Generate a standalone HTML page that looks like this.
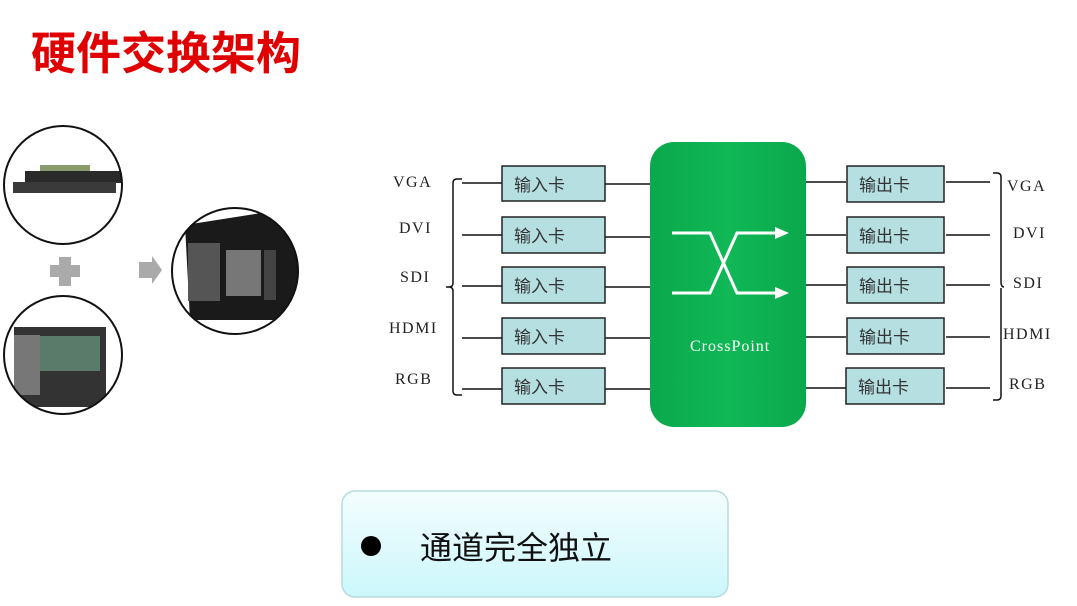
<!DOCTYPE html>
<html><head><meta charset="utf-8"><style>
html,body{margin:0;padding:0;background:#fff;}
body{width:1077px;height:606px;position:relative;overflow:hidden;font-family:"Liberation Sans","Noto Sans CJK SC",sans-serif;}
</style></head><body>
<svg width="1077" height="606" viewBox="0 0 1077 606" xmlns="http://www.w3.org/2000/svg" style="position:absolute;left:0;top:0">
<defs>
<linearGradient id="g" x1="0" y1="0" x2="0" y2="1"><stop offset="0" stop-color="#f4fdfe"/><stop offset="1" stop-color="#cbf7fb"/></linearGradient>
<linearGradient id="gr" x1="0" y1="0" x2="1" y2="0"><stop offset="0" stop-color="#0aa84c"/><stop offset="0.5" stop-color="#10b856"/><stop offset="1" stop-color="#0aa84c"/></linearGradient>
<clipPath id="c1"><circle cx="63" cy="185" r="59"/></clipPath>
<clipPath id="c2"><circle cx="63" cy="355" r="59"/></clipPath>
<clipPath id="c3"><circle cx="235" cy="271" r="63"/></clipPath>
</defs>
<text x="31" y="69" font-size="45" font-weight="bold" fill="#e00000" font-family="'Noto Sans CJK SC',sans-serif">硬件交换架构</text>

<circle cx="63" cy="185" r="59" fill="#fff"/>
<g clip-path="url(#c1)">
<rect x="40" y="165" width="50" height="8" fill="#8a9a6a"/>
<rect x="25" y="171" width="100" height="12" fill="#2a2a2a"/>
<rect x="13" y="182" width="103" height="11" fill="#3a3a3a"/>
</g>
<circle cx="63" cy="185" r="59" fill="none" stroke="#111" stroke-width="2"/>
<circle cx="63" cy="355" r="59" fill="#fff"/>
<g clip-path="url(#c2)">
<rect x="14" y="327" width="92" height="80" fill="#333"/>
<rect x="40" y="336" width="60" height="35" fill="#5a7a6a"/>
<rect x="14" y="335" width="26" height="60" fill="#777"/>
</g>
<circle cx="63" cy="355" r="59" fill="none" stroke="#111" stroke-width="2"/>
<rect x="50" y="265" width="30" height="12" fill="#aaa"/>
<rect x="59" y="257" width="12" height="29" fill="#aaa"/>
<polygon points="139,262 152,262 152,256 162,270 152,284 152,278 139,278" fill="#aaa"/>
<circle cx="235" cy="271" r="63" fill="#fff"/>
<g clip-path="url(#c3)">
<polygon points="185,225 280,210 300,220 300,305 278,320 190,320" fill="#1a1a1a"/>
<rect x="188" y="243" width="32" height="58" fill="#555"/>
<rect x="226" y="250" width="35" height="46" fill="#777"/>
<rect x="264" y="250" width="12" height="50" fill="#444"/>
</g>
<circle cx="235" cy="271" r="63" fill="none" stroke="#111" stroke-width="2"/>

<g font-family="'Liberation Serif',serif" font-size="16" fill="#222" letter-spacing="1.5">
<text x="393" y="187">VGA</text><text x="399" y="233">DVI</text><text x="400" y="282">SDI</text><text x="389" y="333">HDMI</text><text x="395" y="384">RGB</text>
<text x="1007" y="191">VGA</text><text x="1013" y="238">DVI</text><text x="1013" y="288">SDI</text><text x="1003" y="339">HDMI</text><text x="1009" y="389">RGB</text>
</g>
<g stroke="#111" stroke-width="1.5" fill="none">
<path d="M462,179 h-5 q-4,0 -4,4 v100 q0,4 -4,4 h-3 M449,287 q4,0 4,4 v100 q0,4 4,4 h5"/>
<path d="M993,173 h4 q4,0 4,4 v105 q0,5 3,5 M1001,288 v108 q0,4 -4,4 h-4"/>
<path d="M462,183 h40 M462,235 h40 M462,286 h40 M462,338 h40 M462,389 h40"/>
<path d="M605,184 h45 M605,237 h45 M605,287 h45 M605,338 h45 M605,389 h45"/>
<path d="M806,182 h40 M806,235 h40 M806,285 h40 M806,337 h40 M806,388 h40"/>
<path d="M946,182 h44 M946,235 h44 M946,285 h44 M946,337 h44 M946,388 h44"/>
</g>
<g fill="#b6dfe2" stroke="#222" stroke-width="1.5">
<rect x="502" y="166" width="103" height="35"/><rect x="502" y="217" width="103" height="36"/><rect x="502" y="267" width="103" height="36"/><rect x="502" y="318" width="103" height="36"/><rect x="502" y="368" width="103" height="36"/>
<rect x="847" y="166" width="97" height="36"/><rect x="847" y="217" width="97" height="36"/><rect x="847" y="267" width="97" height="36"/><rect x="847" y="318" width="97" height="36"/><rect x="846" y="368" width="98" height="36"/>
</g>
<g font-family="'Noto Sans CJK SC',sans-serif" font-size="17" fill="#333">
<text x="514" y="191">输入卡</text><text x="514" y="242">输入卡</text><text x="514" y="292">输入卡</text><text x="514" y="343">输入卡</text><text x="514" y="393">输入卡</text>
<text x="859" y="191">输出卡</text><text x="859" y="242">输出卡</text><text x="859" y="292">输出卡</text><text x="859" y="343">输出卡</text><text x="858" y="393">输出卡</text>
</g>
<rect x="650" y="142" width="156" height="285" rx="24" fill="url(#gr)"/>
<g stroke="#fff" stroke-width="3" fill="none">
<path d="M672,233 h38 l27,60 h40 M672,293 h38 l27,-60 h40"/>
</g>
<polygon points="775,227 789,233 775,239" fill="#fff"/>
<polygon points="775,287 789,293 775,299" fill="#fff"/>
<text x="690" y="351" font-family="'Liberation Serif',serif" font-size="16" fill="#fff" letter-spacing="1">CrossPoint</text>

<rect x="342" y="491" width="386" height="106" rx="13" fill="url(#g)" stroke="#b8dcdc" stroke-width="1.5"/>
<circle cx="371" cy="546" r="10" fill="#000"/>
<text x="420" y="559" font-family="'Noto Sans CJK SC',sans-serif" font-size="32" fill="#111">通道完全独立</text>
</svg>
</body></html>
